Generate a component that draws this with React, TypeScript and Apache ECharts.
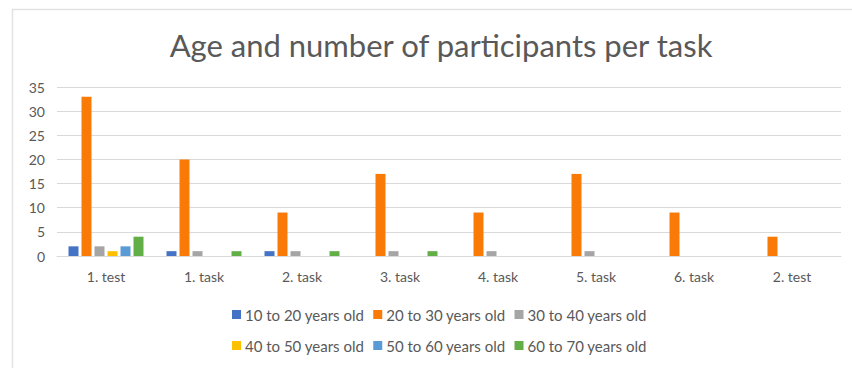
import React, { useEffect, useRef } from "react";
import * as echarts from "echarts";

const categories = ["1. test", "1. task", "2. task", "3. task", "4. task", "5. task", "6. task", "2. test"];
const seriesNames = [
  "10 to 20 years old",
  "20 to 30 years old",
  "30 to 40 years old",
  "40 to 50 years old",
  "50 to 60 years old",
  "60 to 70 years old",
];
const age10to20 = [2, 1, 1, 0, 0, 0, 0, 0];
const age20to30 = [33, 20, 9, 17, 9, 17, 9, 4];
const age30to40 = [2, 1, 1, 1, 1, 1, 0, 0];
const age40to50 = [1, 0, 0, 0, 0, 0, 0, 0];
const age50to60 = [2, 0, 0, 0, 0, 0, 0, 0];
const age60to70 = [4, 1, 1, 1, 0, 0, 0, 0];
const seriesValues = [age10to20, age20to30, age30to40, age40to50, age50to60, age60to70];
const colors = ["#4472C4", "#F97A06", "#A5A5A5", "#FFC000", "#5B9BD5", "#62AE47"];
const yTicks = { min: 0, max: 35, interval: 5 };
const titleText = "Age and number of participants per task";

const FONT = "Lato, 'Open Sans', sans-serif";
const TEXT = "#595959";

export default function App() {
  const ref = useRef<HTMLDivElement>(null);
  useEffect(() => {
    document.body.style.margin = "0";
    const chart = echarts.init(ref.current!, undefined, { renderer: "svg" });
    const legendCommon = {
      icon: "rect",
      itemWidth: 9,
      itemHeight: 9,
      itemGap: 9,
      textStyle: { fontFamily: FONT, fontSize: 15, color: TEXT, padding: [0, 0, 0, -1] },
      padding: 0,
    };
    chart.setOption({
      animation: false,
      backgroundColor: "#ffffff",
      color: colors,
      title: {
        text: titleText,
        left: 436,
        top: 24,
        textAlign: "center",
        textStyle: { fontFamily: FONT, fontSize: 31, fontWeight: "normal", color: TEXT },
      },
      graphic: [
        { type: "line", shape: { x1: 12, y1: 9.5, x2: 852, y2: 9.5 }, style: { stroke: "#e2e2e2", lineWidth: 1.5 } },
        { type: "line", shape: { x1: 12.5, y1: 9, x2: 12.5, y2: 368 }, style: { stroke: "#e2e2e2", lineWidth: 1.5 } },
      ],
      legend: [
        { ...legendCommon, data: seriesNames.slice(0, 3), left: 232, top: 307 },
        { ...legendCommon, data: seriesNames.slice(3, 6), left: 232, top: 338 },
      ],
      grid: { left: 57, right: 11, top: 87, bottom: 112, containLabel: false },
      xAxis: {
        type: "category",
        data: categories,
        axisLine: { lineStyle: { color: "#d9d9d9" } },
        axisTick: { show: false },
        axisLabel: { fontFamily: FONT, fontSize: 14, color: TEXT, margin: 13 },
      },
      yAxis: {
        type: "value",
        min: yTicks.min,
        max: yTicks.max,
        interval: yTicks.interval,
        axisLine: { show: false },
        axisTick: { show: false },
        axisLabel: { fontFamily: FONT, fontSize: 14, color: TEXT, margin: 12 },
        splitLine: { lineStyle: { color: "#d9d9d9" } },
      },
      series: seriesNames.map((name, i) => ({
        name,
        type: "bar",
        data: seriesValues[i],
        barWidth: 10,
        barGap: "30%",
      })),
    });
    return () => chart.dispose();
  }, []);
  return <div ref={ref} style={{ width: 852, height: 368 }} />;
}
